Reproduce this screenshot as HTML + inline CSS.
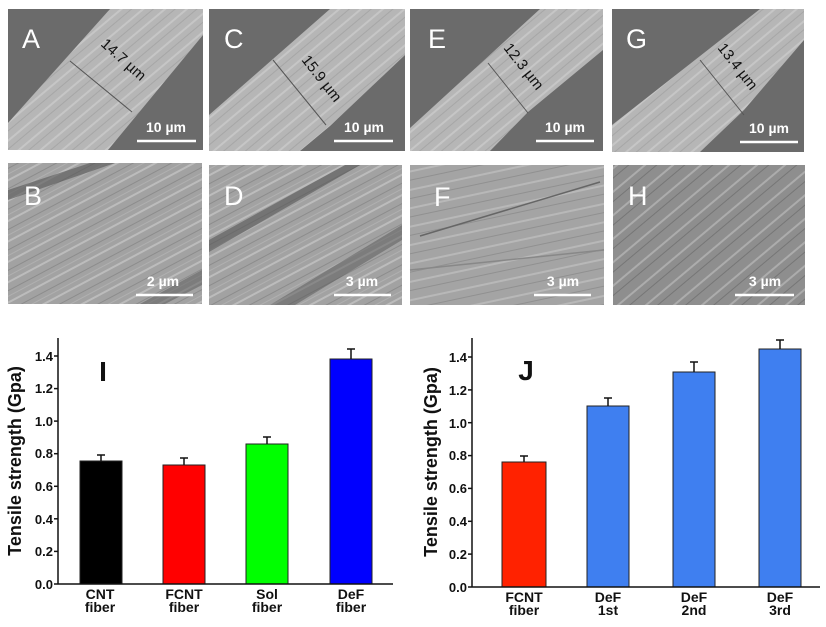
<!DOCTYPE html>
<html><head><meta charset="utf-8"><style>
html,body{margin:0;padding:0;background:#fff;}
svg{display:block;font-family:"Liberation Sans",Arial,sans-serif;}
</style></head><body>
<svg width="826" height="627" viewBox="0 0 826 627" xmlns="http://www.w3.org/2000/svg">
<defs>
<pattern id="st" width="14" height="14" patternUnits="userSpaceOnUse" patternTransform="rotate(-40)">
<rect width="14" height="14" fill="#b6b6b6"/>
<rect y="0" width="14" height="2" fill="#c6c6c6"/>
<rect y="7" width="14" height="1" fill="#a6a6a6"/>
</pattern>
<pattern id="tx" width="18" height="18" patternUnits="userSpaceOnUse" patternTransform="rotate(-28)">
<rect width="18" height="18" fill="#a2a2a2"/>
<rect y="0" width="18" height="2" fill="#bcbcbc"/>
<rect y="8" width="18" height="1" fill="#8c8c8c"/>
<rect y="13" width="18" height="1" fill="#b0b0b0"/>
</pattern>
<pattern id="tx2" width="18" height="18" patternUnits="userSpaceOnUse" patternTransform="rotate(-40)">
<rect width="18" height="18" fill="#8e8e8e"/>
<rect y="0" width="18" height="2" fill="#acacac"/>
<rect y="8" width="18" height="1" fill="#767676"/>
</pattern>
<pattern id="tx3" width="18" height="18" patternUnits="userSpaceOnUse" patternTransform="rotate(-12)">
<rect width="18" height="18" fill="#a4a4a4"/>
<rect y="0" width="18" height="2" fill="#b8b8b8"/>
<rect y="9" width="18" height="1" fill="#909090"/>
</pattern>
</defs>

<g>
<rect x="8" y="9" width="195" height="141" fill="#6b6b6b"/>
<polygon points="8,123 110,9 203,9 203,35 108,150 8,150" fill="url(#st)"/>
<line x1="70" y1="61" x2="132" y2="112" stroke="#555" stroke-width="1"/>
<text x="100" y="45" transform="rotate(42 100 45)" font-size="15" fill="#111">14.7 µm</text>
<text x="22" y="48" font-size="27" fill="#fff">A</text>
<line x1="137" y1="141" x2="196" y2="141" stroke="#fff" stroke-width="2.5"/>
<text x="166" y="132" font-size="14" font-weight="bold" fill="#fff" text-anchor="middle">10 µm</text>
</g>
<g>
<rect x="209" y="9" width="196" height="142" fill="#6b6b6b"/>
<polygon points="209,115 330,9 405,9 405,55 330,126 300,151 209,151" fill="url(#st)"/>
<line x1="273" y1="60" x2="326" y2="125" stroke="#555" stroke-width="1"/>
<text x="301" y="60" transform="rotate(52 301 60)" font-size="15" fill="#111">15.9 µm</text>
<text x="224" y="48" font-size="27" fill="#fff">C</text>
<line x1="334" y1="141" x2="393" y2="141" stroke="#fff" stroke-width="2.5"/>
<text x="364" y="132" font-size="14" font-weight="bold" fill="#fff" text-anchor="middle">10 µm</text>
</g>
<g>
<rect x="410" y="9" width="193" height="142" fill="#6b6b6b"/>
<polygon points="410,128 540,9 603,9 603,50 528,112 490,151 410,151" fill="url(#st)"/>
<line x1="488" y1="63" x2="528" y2="113" stroke="#555" stroke-width="1"/>
<text x="503" y="48" transform="rotate(52 503 48)" font-size="15" fill="#111">12.3 µm</text>
<text x="428" y="48" font-size="27" fill="#fff">E</text>
<line x1="536" y1="141" x2="594" y2="141" stroke="#fff" stroke-width="2.5"/>
<text x="565" y="132" font-size="14" font-weight="bold" fill="#fff" text-anchor="middle">10 µm</text>
</g>
<g>
<rect x="612" y="9" width="192" height="143" fill="#6b6b6b"/>
<polygon points="612,125 760,9 804,9 804,40 744,110 700,152 612,152" fill="url(#st)"/>
<line x1="700" y1="60" x2="744" y2="115" stroke="#555" stroke-width="1"/>
<text x="717" y="48" transform="rotate(52 717 48)" font-size="15" fill="#111">13.4 µm</text>
<text x="626" y="48" font-size="27" fill="#fff">G</text>
<line x1="740" y1="142" x2="798" y2="142" stroke="#fff" stroke-width="2.5"/>
<text x="769" y="133" font-size="14" font-weight="bold" fill="#fff" text-anchor="middle">10 µm</text>
</g>

<g>
<rect x="8" y="163" width="194" height="141" fill="url(#tx)"/>
<polygon points="8,190 90,163 115,163 8,200" fill="#555" opacity="0.6"/>
<polygon points="140,304 202,270 202,285 165,304" fill="#555" opacity="0.5"/>
<text x="24" y="205" font-size="27" fill="#fff">B</text>
<line x1="136" y1="295" x2="193" y2="295" stroke="#fff" stroke-width="2.5"/>
<text x="163" y="286" font-size="14" font-weight="bold" fill="#fff" text-anchor="middle">2 µm</text>
</g>
<g>
<rect x="209" y="165" width="193" height="140" fill="url(#tx)"/>
<polygon points="209,240 345,165 360,165 209,252" fill="#555" opacity="0.6"/>
<polygon points="270,305 402,225 402,240 295,305" fill="#555" opacity="0.5"/>
<text x="224" y="205" font-size="27" fill="#fff">D</text>
<line x1="334" y1="295" x2="391" y2="295" stroke="#fff" stroke-width="2.5"/>
<text x="362" y="286" font-size="14" font-weight="bold" fill="#fff" text-anchor="middle">3 µm</text>
</g>
<g>
<rect x="410" y="165" width="194" height="140" fill="url(#tx3)"/>
<line x1="420" y1="236" x2="600" y2="182" stroke="#666" stroke-width="1.5"/>
<line x1="410" y1="270" x2="604" y2="250" stroke="#888" stroke-width="1.5"/>
<text x="434" y="206" font-size="27" fill="#fff">F</text>
<line x1="534" y1="295" x2="591" y2="295" stroke="#fff" stroke-width="2.5"/>
<text x="563" y="286" font-size="14" font-weight="bold" fill="#fff" text-anchor="middle">3 µm</text>
</g>
<g>
<rect x="613" y="165" width="192" height="140" fill="url(#tx2)"/>
<text x="628" y="205" font-size="27" fill="#fff">H</text>
<line x1="735" y1="295" x2="794" y2="295" stroke="#fff" stroke-width="2.5"/>
<text x="765" y="286" font-size="14" font-weight="bold" fill="#fff" text-anchor="middle">3 µm</text>
</g>

<g font-weight="bold" fill="#111">
<rect x="80" y="461" width="42" height="123" fill="#000" stroke="#222"/>
<rect x="163" y="465" width="42" height="119" fill="#ff0000" stroke="#222"/>
<rect x="246" y="444" width="42" height="140" fill="#00ff00" stroke="#222"/>
<rect x="330" y="359" width="42" height="225" fill="#0000ff" stroke="#222"/>
<g stroke="#111" stroke-width="1.5">
<line x1="101" y1="461" x2="101" y2="455"/><line x1="97" y1="455" x2="105" y2="455"/>
<line x1="184" y1="465" x2="184" y2="458"/><line x1="180" y1="458" x2="188" y2="458"/>
<line x1="267" y1="444" x2="267" y2="437"/><line x1="263" y1="437" x2="271" y2="437"/>
<line x1="351" y1="359" x2="351" y2="349"/><line x1="347" y1="349" x2="355" y2="349"/>
<line x1="58" y1="338" x2="58" y2="584"/>
<line x1="58" y1="584" x2="393" y2="584"/>
<line x1="54" y1="584" x2="58" y2="584"/><line x1="54" y1="551.4" x2="58" y2="551.4"/>
<line x1="54" y1="518.8" x2="58" y2="518.8"/><line x1="54" y1="486.3" x2="58" y2="486.3"/>
<line x1="54" y1="453.7" x2="58" y2="453.7"/><line x1="54" y1="421.1" x2="58" y2="421.1"/>
<line x1="54" y1="388.6" x2="58" y2="388.6"/><line x1="54" y1="356" x2="58" y2="356"/>
</g>
<g font-size="13" text-anchor="end">
<text x="53" y="589">0.0</text><text x="53" y="556">0.2</text><text x="53" y="524">0.4</text>
<text x="53" y="491">0.6</text><text x="53" y="458">0.8</text><text x="53" y="426">1.0</text>
<text x="53" y="393">1.2</text><text x="53" y="361">1.4</text>
</g>
<text x="21" y="461" font-size="18" text-anchor="middle" transform="rotate(-90 21 461)">Tensile strength (Gpa)</text>
<text x="103" y="381" font-size="28" text-anchor="middle">I</text>
<g font-size="14" text-anchor="middle">
<text x="100" y="599">CNT</text><text x="100" y="612">fiber</text>
<text x="184" y="599">FCNT</text><text x="184" y="612">fiber</text>
<text x="267" y="599">Sol</text><text x="267" y="612">fiber</text>
<text x="351" y="599">DeF</text><text x="351" y="612">fiber</text>
</g>
</g>

<g font-weight="bold" fill="#111">
<rect x="502" y="462" width="44" height="125" fill="#ff2200" stroke="#222"/>
<rect x="587" y="406" width="42" height="181" fill="#3f7ff0" stroke="#222"/>
<rect x="673" y="372" width="42" height="215" fill="#3f7ff0" stroke="#222"/>
<rect x="759" y="349" width="42" height="238" fill="#3f7ff0" stroke="#222"/>
<g stroke="#111" stroke-width="1.5">
<line x1="524" y1="462" x2="524" y2="456"/><line x1="520" y1="456" x2="528" y2="456"/>
<line x1="608" y1="406" x2="608" y2="398"/><line x1="604" y1="398" x2="612" y2="398"/>
<line x1="694" y1="372" x2="694" y2="362"/><line x1="690" y1="362" x2="698" y2="362"/>
<line x1="780" y1="349" x2="780" y2="340"/><line x1="776" y1="340" x2="784" y2="340"/>
<line x1="472" y1="338" x2="472" y2="587"/>
<line x1="472" y1="587" x2="820" y2="587"/>
<line x1="468" y1="587" x2="472" y2="587"/><line x1="468" y1="554.1" x2="472" y2="554.1"/>
<line x1="468" y1="521.3" x2="472" y2="521.3"/><line x1="468" y1="488.4" x2="472" y2="488.4"/>
<line x1="468" y1="455.6" x2="472" y2="455.6"/><line x1="468" y1="422.7" x2="472" y2="422.7"/>
<line x1="468" y1="389.9" x2="472" y2="389.9"/><line x1="468" y1="357" x2="472" y2="357"/>
</g>
<g font-size="13" text-anchor="end">
<text x="467" y="592">0.0</text><text x="467" y="559">0.2</text><text x="467" y="526">0.4</text>
<text x="467" y="493">0.6</text><text x="467" y="460">0.8</text><text x="467" y="428">1.0</text>
<text x="467" y="395">1.2</text><text x="467" y="362">1.4</text>
</g>
<text x="437" y="462" font-size="18" text-anchor="middle" transform="rotate(-90 437 462)">Tensile strength (Gpa)</text>
<text x="526" y="380" font-size="28" text-anchor="middle">J</text>
<g font-size="14" text-anchor="middle">
<text x="524" y="602">FCNT</text><text x="524" y="615">fiber</text>
<text x="608" y="602">DeF</text><text x="608" y="615">1st</text>
<text x="694" y="602">DeF</text><text x="694" y="615">2nd</text>
<text x="780" y="602">DeF</text><text x="780" y="615">3rd</text>
</g>
</g>
</svg>
</body></html>
